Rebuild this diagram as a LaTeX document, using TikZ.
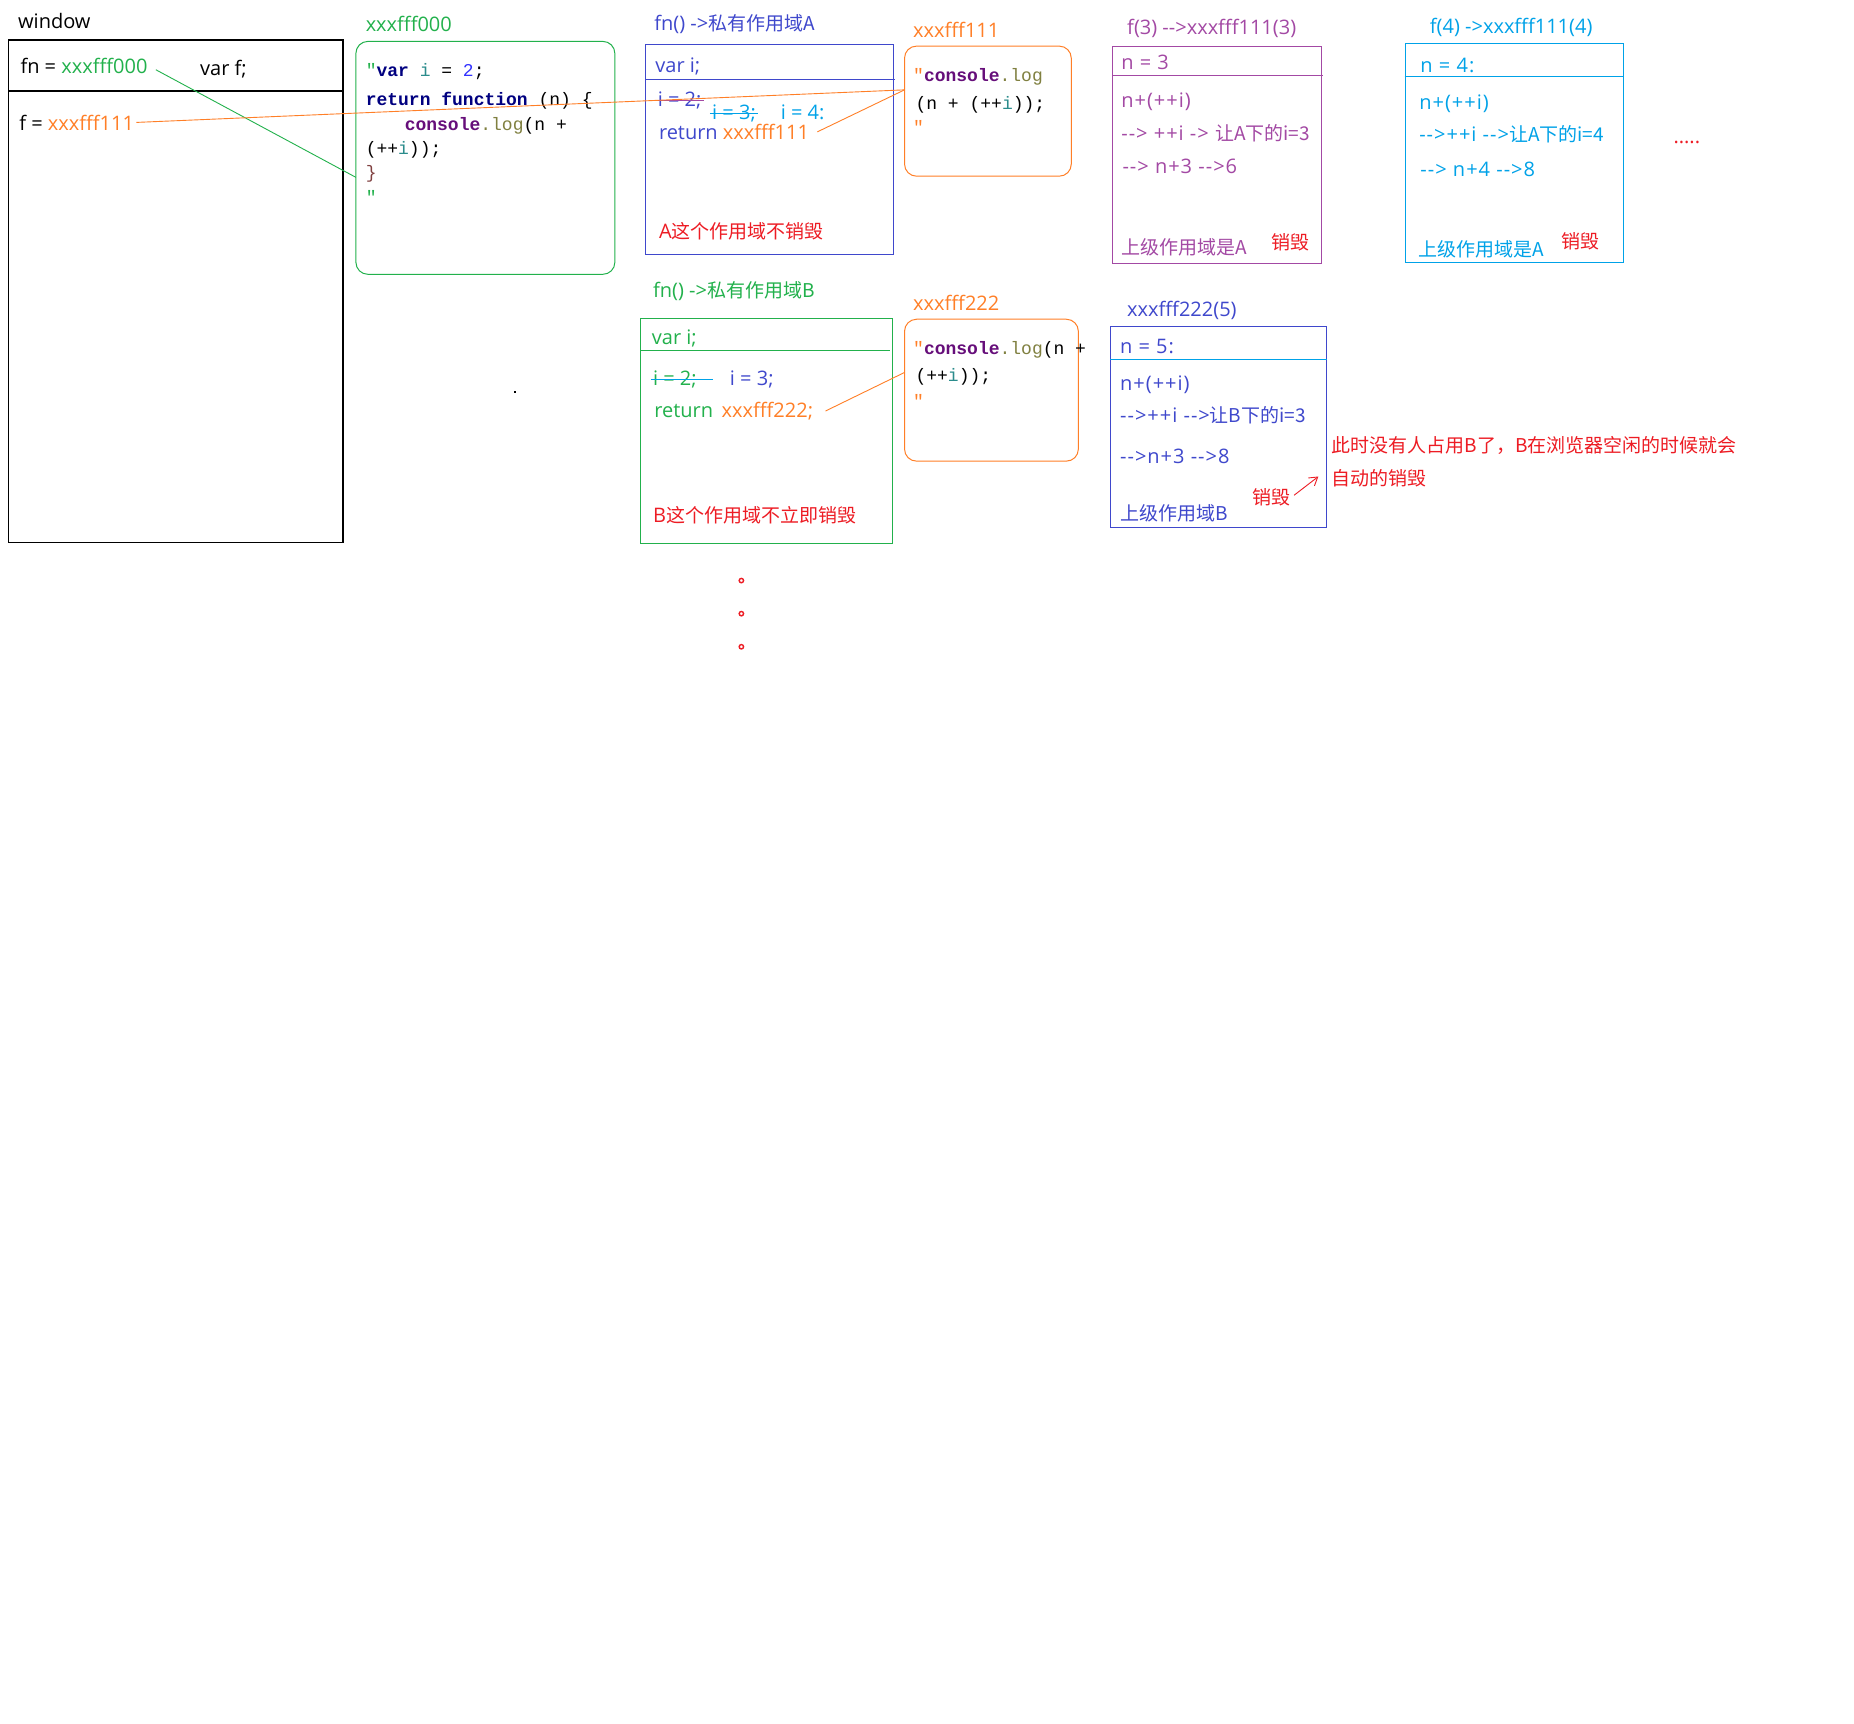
\documentclass[tikz,border=0pt]{standalone}
\usepackage{fontspec}
\setmainfont{Open Sans}
\newfontfamily\zh{Noto Sans CJK SC}[Scale=0.95]
\newfontfamily\wide{Open Sans}[LetterSpace=5]
\newfontfamily\codefont{Liberation Mono}
\usetikzlibrary{arrows.meta}
\definecolor{pgreen}{RGB}{34,177,76}
\definecolor{porange}{RGB}{255,127,39}
\definecolor{pblue}{RGB}{63,72,204}
\definecolor{pred}{RGB}{237,28,36}
\definecolor{ppurple}{RGB}{163,73,164}
\definecolor{pcyan}{RGB}{0,162,232}
\definecolor{kw}{RGB}{0,0,128}
\definecolor{ident}{RGB}{43,140,140}
\definecolor{num}{RGB}{51,51,255}
\definecolor{cons}{RGB}{102,14,122}
\definecolor{logc}{RGB}{128,128,64}
\definecolor{brace}{RGB}{128,64,64}
\begin{document}
\begin{tikzpicture}[x=0.5912pt,y=-0.5912pt,
  txt/.style={anchor=base west, inner sep=0pt, font=\fontsize{10}{12}\selectfont},
  wtxt/.style={anchor=base west, inner sep=0pt, font={\wide\fontsize{10}{12}\selectfont}},
  code/.style={anchor=base west, inner sep=0pt, font={\codefont\fontsize{9}{11}\selectfont}},
  frame/.style={line width=0.45pt},
  rbox/.style={line width=0.5pt, rounded corners=6pt},
  conn/.style={line width=0.45pt},
]
\useasboundingbox[fill=white] (0,0) rectangle (1568,1458);

% ---------- window ----------
\node[txt] (win) at (15,24) {window};
\draw[line width=0.75pt] (7,34) rectangle (290,459);
\draw[line width=0.75pt] (7,77) -- (290,77);
\node[txt] (fn) at (17,62) {fn = \textcolor{pgreen}{xxxfff000}};
\node[txt] (varf) at (169,64) {var f;};
\node[txt] (f) at (16,110) {f = \textcolor{porange}{xxxfff111}};
\fill (434.5,330.5) rectangle (436.2,332.2);

% ---------- xxxfff000 ----------
\node[txt,pgreen] (l000) at (309,27) {xxxfff000};
\draw[pgreen,rbox] (301,35) rectangle (520,232);
\coordinate (gEnd) at (301,150);
\node[code] (c1) at (309,65) {\textcolor{pgreen}{"}\textbf{\textcolor{kw}{var}} \textcolor{ident}{i} = \textcolor{num}{2};};
\node[code] (c2) at (309,89) {\textbf{\textcolor{kw}{return function}} (n) \{};
\node[code] (c3) at (342,110) {\textbf{\textcolor{cons}{console}}\textcolor{logc}{.log}(n +};
\node[code] (c4) at (309,131) {(++\textcolor{ident}{i}));};
\node[code] (c5) at (309,151) {\textcolor{brace}{\}}};
\node[code] (c6) at (309,172) {\textcolor{pgreen}{"}};

% ---------- scope A ----------
\node[txt,pblue] (tA) at (553,26) {fn() ->\zh{私有作用域}A};
\draw[pblue,frame] (546,38) rectangle (756,215);
\draw[pblue,frame] (546,67) -- (757,67);
\node[txt,pblue] (vA) at (554,61) {var i;};
\node[txt,pblue] (iA2) at (556,90) {i = 2;};
\draw[ppurple,line width=0.6pt] ([xshift=-1.5pt]iA2.west) -- ([xshift=1pt]iA2.east);
\node[txt,pcyan] (iA3) at (602,101) {i = 3;};
\draw[pcyan,line width=0.6pt] ([xshift=-1pt]iA3.west) -- ([xshift=1pt]iA3.east);
\node[txt,pcyan] (iA4) at (660,101) {i = 4:};
\node[txt,pblue] (rA) at (557,118) {return};
\node[txt,porange] (addrA) at (611,118) {xxxfff111};
\node[txt,pred] (nA) at (557,202) {A\zh{这个作用域不销毁}};

% ---------- xxxfff111 ----------
\node[txt,porange] (l111) at (772,32) {xxxfff111};
\draw[porange,rbox] (765,39) rectangle (906,149);
\coordinate (oA) at (765,76);
\node[code] (d1) at (772,69) {\textcolor{porange}{"}\textbf{\textcolor{cons}{console}}\textcolor{logc}{.log}};
\node[code] (d2) at (774,93) {(n + (++\textcolor{ident}{i}));};
\node[code] (d3) at (772,113) {\textcolor{porange}{"}};

% ---------- scope B ----------
\node[txt,pgreen] (tB) at (552,252) {fn() ->\zh{私有作用域}B};
\draw[pgreen,frame] (542,269) rectangle (755,460);
\draw[pgreen,frame] (542,296) -- (753,296);
\node[txt,pgreen] (vB) at (551,291) {var i;};
\node[txt,pgreen] (iB2) at (552,326) {i = 2;};
\draw[pcyan,line width=0.6pt] ([xshift=-1pt]iB2.west) -- ([xshift=8pt]iB2.east);
\node[txt,pblue] (iB3) at (617,326) {i = 3;};
\node[txt,pgreen] (rB) at (553,353) {return};
\node[txt,porange] (addrB) at (610,353) {xxxfff222;};
\node[txt,pred] (nB) at (552,442) {B\zh{这个作用域不立即销毁}};

% ---------- xxxfff222 ----------
\node[txt,porange] (l222) at (772,263) {xxxfff222};
\draw[porange,rbox] (765,270) rectangle (912,390);
\coordinate (oB) at (765,315);
\node[code] (e1) at (772,300) {\textcolor{porange}{"}\textbf{\textcolor{cons}{console}}\textcolor{logc}{.log}(n +};
\node[code] (e2) at (774,323) {(++\textcolor{ident}{i}));};
\node[code] (e3) at (772,345) {\textcolor{porange}{"}};

% ---------- f(3) ----------
\node[txt,ppurple] (t3) at (953,29) {f(3) -{}->xxxfff111(3)};
\draw[ppurple,frame] (941,39) rectangle (1118,223);
\draw[ppurple,frame] (941,64) -- (1119,64);
\node[wtxt,ppurple] (p1) at (948,59) {n = 3};
\node[wtxt,ppurple] (p2) at (948,91) {n+(++i)};
\node[wtxt,ppurple] (p3) at (948,119) {-{}-> ++i -> \zh{让}A\zh{下的}i=3};
\node[wtxt,ppurple] (p4) at (949,147) {-{}-> n+3 -{}->6};
\node[txt,ppurple] (p5) at (948,215) {\zh{上级作用域是}A};
\node[txt,pred] (p6) at (1075,211) {\zh{销毁}};

% ---------- f(4) ----------
\node[txt,pcyan] (t4) at (1209,28) {f(4) ->xxxfff111(4)};
\draw[pcyan,frame] (1189,37) rectangle (1373,222);
\draw[pcyan,frame] (1188,65) -- (1373,65);
\node[wtxt,pcyan] (q1) at (1201,61) {n = 4:};
\node[wtxt,pcyan] (q2) at (1200,93) {n+(++i)};
\node[wtxt,pcyan] (q3) at (1200,120) {-{}->++i -{}->\zh{让}A\zh{下的}i=4};
\node[wtxt,pcyan] (q4) at (1201,149) {-{}-> n+4 -{}->8};
\node[txt,pcyan] (q5) at (1199,217) {\zh{上级作用域是}A};
\node[txt,pred] (q6) at (1320,210) {\zh{销毁}};
\node[txt,pred] (dots) at (1415,121) {.....};

% ---------- xxxfff222(5) ----------
\node[txt,pblue] (t5) at (953,268) {xxxfff222(5)};
\draw[pblue,frame] (939,276) rectangle (1122,446);
\draw[pcyan,frame] (939,304) -- (1122,304);
\node[wtxt,pblue] (s1) at (947,299) {n = 5:};
\node[wtxt,pblue] (s2) at (947,330) {n+(++i)};
\node[wtxt,pblue] (s3) at (947,357) {-{}->++i -{}->\zh{让}B\zh{下的}i=3};
\node[wtxt,pblue] (s4) at (947,392) {-{}->n+3 -{}->8};
\node[txt,pblue] (s5) at (947,440) {\zh{上级作用域}B};
\node[txt,pred] (s6) at (1059,427) {\zh{销毁}};
\coordinate (arrTip) at (1115,403);
\node[txt,pred] (note1) at (1126,383) {\zh{此时没有人占用B了，B在浏览器空闲的时候就会}};
\node[txt,pred] (note2) at (1126,411) {\zh{自动的销毁}};

% ---------- red dots ----------
\draw[pred,line width=0.7pt] (627,491) circle (1.1pt);
\draw[pred,line width=0.7pt] (627,519) circle (1.1pt);
\draw[pred,line width=0.7pt] (627,547) circle (1.1pt);

% ---------- connectors ----------
\draw[pgreen,conn] ([xshift=4pt,yshift=-2pt]fn.east) -- (gEnd);
\draw[porange,conn] ([xshift=1pt]f.east) -- (oA);
\draw[porange,conn] ([xshift=4pt]addrA.east) -- (oA);
\draw[porange,conn] ([xshift=6pt]addrB.east) -- (oB);
\draw[pred,conn,shorten <=2pt,-{Straight Barb[length=4pt,width=5pt]}] (s6.east) -- (arrTip);
\end{tikzpicture}
\end{document}
